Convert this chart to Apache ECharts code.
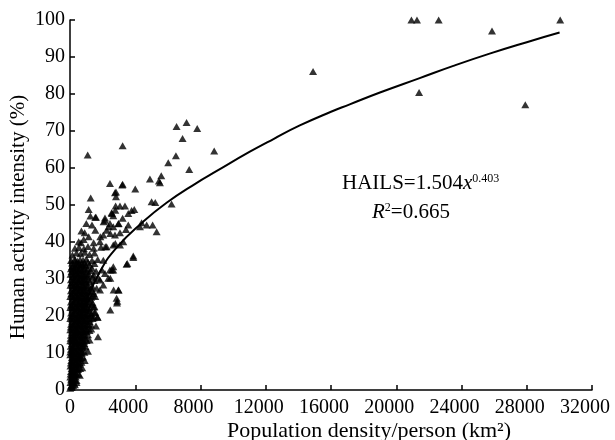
<!DOCTYPE html>
<html>
<head>
<meta charset="utf-8">
<script src="https://cdn.jsdelivr.net/npm/echarts@6/dist/echarts.min.js"></script>
<style>
  html, body { margin: 0; padding: 0; background: #fff; }
  #hails_chart { width: 615px; height: 440px; }
</style>
</head>
<body>
<div id="hails_chart"></div>
<script>
// population density (x) vs human activity intensity (y)
const denseCore = [
  [10,0.5],[60,1],[120,0.8],[30,2],[150,2.2],[250,1.8],[20,3.5],[100,3.2],[220,3.8],[350,3.5],
  [60,5],[180,5.2],[320,4.8],[450,5.5],[30,6.5],[130,6.8],[260,6.2],[400,6.6],[550,6.9],
  [80,8],[200,8.3],[340,7.8],[480,8.2],[620,8.5],[20,9.5],[150,9.7],[290,9.3],[430,9.8],[580,9.4],[720,9.9],
  [60,11],[200,11.2],[350,10.8],[500,11.3],[650,11],[800,11.4],[120,12.6],[270,12.4],[420,12.8],[570,12.5],[720,12.9],[880,12.6],
  [40,14],[190,14.2],[340,13.8],[490,14.3],[640,14.1],[790,14.4],[950,14],[110,15.6],[260,15.4],[410,15.8],[560,15.5],[710,15.9],[860,15.6],[1020,15.8],
  [50,17],[200,17.2],[350,16.8],[500,17.3],[650,17.1],[800,17.4],[950,17],[1120,17.3],[130,18.6],[280,18.4],[430,18.8],[580,18.5],[730,18.9],[880,18.6],[1030,18.8],[1200,18.5],
  [60,20],[210,20.2],[360,19.8],[510,20.3],[660,20.1],[810,20.4],[960,20],[1110,20.3],[1280,20.1],[1450,19.5],
  [140,21.6],[290,21.4],[440,21.8],[590,21.5],[740,21.9],[890,21.6],[1040,21.8],[1200,21.5],
  [70,23],[220,23.2],[370,22.8],[520,23.3],[670,23.1],[820,23.4],[970,23],[1120,23.3],[1350,23.1],
  [150,24.6],[300,24.4],[450,24.8],[600,24.5],[750,24.9],[900,24.6],[1050,24.8],[1250,24.5],
  [80,26],[230,26.2],[380,25.8],[530,26.3],[680,26.1],[830,26.4],[980,26],[1150,26.3],[1450,26.1],
  [160,27.6],[310,27.4],[460,27.8],[610,27.5],[760,27.9],[910,27.6],[1080,27.8],[1300,27.5],
  [90,29],[240,29.2],[390,28.8],[540,29.3],[690,29.1],[840,29.4],[1000,29],[1200,29.3],
  [170,30.6],[320,30.4],[470,30.8],[620,30.5],[770,30.9],[930,30.6],[1100,30.8],[1400,30.5],
  [100,32],[250,32.2],[400,31.8],[550,32.3],[700,32.1],[850,32.4],[1020,32],[1250,32.3],[1600,32.1],
  [180,33.6],[330,33.4],[480,33.8],[630,33.5],[800,33.9],[980,33.6],[1200,33.8],
  [60,35],[280,35.2],[450,34.8],[620,35.3],[800,35.1],[1000,35.4],[1350,35],[1700,35.3]
]
// in-between rows, the core is solid black in the figure
const denseFill = [
  [90,1.3],[190,1.2],[300,1.4],[70,2.8],[170,2.7],[290,2.9],[400,2.6],
  [40,4.3],[140,4.2],[260,4.4],[390,4.1],[520,4.3],[100,5.8],[220,5.7],[360,5.9],[500,5.6],[620,5.8],
  [50,7.3],[170,7.2],[310,7.4],[450,7.1],[600,7.3],[700,7.5],[120,8.8],[260,8.7],[400,8.9],[540,8.6],[680,8.8],[800,8.9],
  [20,10.3],[130,10.2],[270,10.4],[420,10.1],[570,10.3],[720,10.5],[880,10.2],
  [50,11.8],[190,11.7],[340,11.9],[490,11.6],[640,11.8],[790,12],[960,11.7],
  [20,13.3],[120,13.2],[260,13.4],[410,13.1],[560,13.3],[710,13.5],[860,13.2],[1020,13.4],
  [60,14.8],[180,14.7],[330,14.9],[480,14.6],[630,14.8],[780,15],[930,14.7],[1100,14.9],
  [20,16.3],[130,16.2],[280,16.4],[430,16.1],[580,16.3],[730,16.5],[880,16.2],[1030,16.4],[1200,16.1],
  [70,17.8],[200,17.7],[350,17.9],[500,17.6],[650,17.8],[800,18],[950,17.7],[1100,17.9],[1300,17.6],
  [20,19.3],[130,19.2],[280,19.4],[430,19.1],[580,19.3],[730,19.5],[880,19.2],[1030,19.4],[1200,19.1],[1380,19.3],
  [70,20.8],[200,20.7],[350,20.9],[500,20.6],[650,20.8],[800,21],[950,20.7],[1100,20.9],[1300,20.6],[1500,20.9],
  [20,22.3],[140,22.2],[290,22.4],[440,22.1],[590,22.3],[740,22.5],[890,22.2],[1040,22.4],[1220,22.1],[1450,22.4],
  [60,23.8],[220,23.7],[370,23.9],[520,23.6],[670,23.8],[820,24],[970,23.7],[1150,23.9],[1380,23.6],
  [20,25.3],[150,25.2],[300,25.4],[450,25.1],[600,25.3],[750,25.5],[900,25.2],[1060,25.4],[1300,25.1],[1550,25.3],
  [60,26.8],[220,26.7],[370,26.9],[520,26.6],[670,26.8],[820,27],[970,26.7],[1150,26.9],[1400,26.6],
  [30,28.3],[160,28.2],[310,28.4],[460,28.1],[610,28.3],[760,28.5],[910,28.2],[1080,28.4],[1350,28.1],
  [60,29.8],[220,29.7],[370,29.9],[520,29.6],[670,29.8],[820,30],[970,29.7],[1150,29.9],[1500,29.6],
  [40,31.3],[180,31.2],[330,31.4],[480,31.1],[630,31.3],[780,31.5],[940,31.2],[1150,31.4],[1450,31.1],
  [60,32.8],[230,32.7],[380,32.9],[530,32.6],[680,32.8],[850,33],[1050,32.7],[1350,32.9],
  [130,34.3],[380,34.2],[550,34.4],[720,34.1],[900,34.3],[1100,34.5],[1500,34.2]
]
const upperCluster = [
  [150,36.5],[400,37],[650,36.8],[900,37.2],[1200,36.6],[1500,37],[300,38.3],[550,38.5],[850,38.2],[1100,38.8],[1450,38.3],[1900,38.6],
  [531,40.1],[674,39.8],[837,40.7],[1145,41.4],[1450,39.8],[1858,41.4],[2164,38.7],[2246,38.7],[2654,39.2],[3063,39.2],[3266,40.1],[1838,40.1],[2777,39.6],
  [1348,44.6],[1552,43.2],[2062,45.5],[2368,44.1],[2470,42.3],[2981,45],[2042,41.9],[2246,43.2],[2450,45],[2654,44.1],[2756,41.9],[2960,44.9],
  [3063,42.5],[3226,46.4],[3430,43.4],[3573,44.6],[3573,47.7],[2144,45.9],[2552,47.9],[2654,47.1],[2797,49.7],[3063,49.7],[3369,49.7],[3777,48.5],[3941,48.8],
  [1145,48.8],[1268,51.9],[1552,46.7],[1592,46.7],[2144,46.5],[2573,47.7],[2777,48.6],[900,42.5],[1000,45],[700,43],[1250,47]
]
const midScatter = [
  [2470,21.6],[1695,19.6],[1592,17.3],[1715,14.4],[2880,23.5],[2960,27],[2900,24],[1675,19.8],[3880,36.2],[3510,34.2],[2650,32.4],
  [1838,27],[1633,27.5],[3880,35.8],[3471,34],[2654,33.3],[2450,32.4],[2042,35.1],[2144,31.5],[2858,24.8],[2348,30.2],[1838,29.7],[2042,28.4],
  [327,35.1],[122,33.3],[2573,32.4],[1960,32.4],[1756,30.2],[2470,30.2],[2675,27],[2981,27],
  [1500,22.5],[1400,25.5],[1550,21],[1300,16.5],[1200,13.5],[1100,10.5],[900,8],[750,6],[600,4],[400,2]
]
const outliers = [
  [1084,63.5],[2450,55.8],[2818,53.5],[2818,52.2],[3226,66],[3226,55.6],[4000,54.3],[2756,53.3],[3205,55.4],
  [4900,57],[5002,50.9],[5226,50.7],[5451,56.5],[5513,56],[5594,57.9],[6023,61.4],[6533,71.2],[6493,63.3],[6900,68],[7145,72.3],
  [7309,59.6],[7799,70.7],[8840,64.6],[6227,50.3],[5310,42.8],[5065,44.6],[4700,44.6],[4389,45.2],[4288,44.1],
  [14900,86.1],[20930,100],[21270,100],[22600,100],[25870,97],[30050,100],[21400,80.4],[27910,77.1]
]
// fitted power curve
const fitX = [0, 100, 500, 1000, 1838, 2858, 4491, 5921, 7700, 9000, 11025, 12500, 14088, 16000, 17150, 19000, 21438, 23500, 25725, 28000, 30013]
const fitY = [0, 9.5, 18, 24, 32, 38.5, 45.5, 50.6, 55.8, 59.2, 64.4, 67.9, 71.5, 75.2, 77.2, 80.4, 84.3, 87.6, 90.9, 94, 96.6]

const xTicks = [0, 4000, 8000, 12000, 16000, 20000, 24000, 28000, 32000]
const yTicks = [0, 10, 20, 30, 40, 50, 60, 70, 80, 90, 100]

const chartInstance = echarts.init(document.getElementById('hails_chart'))
const font = 'Liberation Serif'
const axisCommon = {
  axisLine: { lineStyle: { color: '#000', width: 1.5 } },
  axisTick: { inside: true, length: 5, lineStyle: { color: '#000', width: 1.5 } },
  splitLine: { show: false },
  nameMoveOverlap: false
}

const option = {
  backgroundColor: '#fff',
  animation: false,
  grid: { left: 70, right: 23, top: 20, bottom: 50, outerBoundsMode: 'none', containLabel: false },
  xAxis: {
    ...axisCommon,
    type: 'value',
    min: xTicks[0],
    max: xTicks[xTicks.length - 1],
    interval: 4000,
    name: 'Population density/person (km²)',
    nameLocation: 'middle',
    nameGap: 30,
    nameTextStyle: { fontFamily: font, fontSize: 22, color: '#000', padding: [0, 0, 0, 76] },
    axisLabel: {
      fontFamily: font, fontSize: 20, color: '#000', margin: 8,
      // the multi-digit labels sit a little left of their ticks in the figure
      formatter: (v) => v === 0 ? '{z|0}' : '{t|' + v + '}',
      rich: {
        z: { fontFamily: font, fontSize: 20, color: '#000' },
        t: { fontFamily: font, fontSize: 20, color: '#000', padding: [0, 14, 0, 0] }
      }
    }
  },
  yAxis: {
    ...axisCommon,
    type: 'value',
    min: yTicks[0],
    max: yTicks[yTicks.length - 1],
    interval: 10,
    name: 'Human activity intensity (%)',
    nameLocation: 'middle',
    nameGap: 41,
    nameTextStyle: { fontFamily: font, fontSize: 21, color: '#000', padding: [0, 24, 0, 0] },
    axisLabel: { fontFamily: font, fontSize: 20, color: '#000', margin: 5 }
  },
  series: [
    {
      type: 'scatter',
      symbol: 'triangle',
      symbolSize: [8, 7],
      itemStyle: { color: '#000' },
      data: [].concat(denseCore, denseFill, upperCluster, midScatter, outliers)
    },
    {
      type: 'line',
      smooth: true,
      showSymbol: false,
      lineStyle: { color: '#000', width: 2 },
      data: fitX.map((x, i) => [x, fitY[i]])
    }
  ],
  graphic: [
    {
      type: 'text',
      left: 342,
      top: 173,
      style: {
        text: '{n|HAILS=1.504}{i|x}{s|0.403}',
        rich: {
          n: { fontFamily: font, fontSize: 21, color: '#000' },
          i: { fontFamily: font, fontSize: 21, fontStyle: 'italic', color: '#000' },
          s: { fontFamily: font, fontSize: 12, color: '#000', verticalAlign: 'top' }
        }
      }
    },
    {
      type: 'text',
      left: 372,
      top: 202,
      style: {
        text: '{i|R}{s|2}{n|=0.665}',
        rich: {
          n: { fontFamily: font, fontSize: 21, color: '#000' },
          i: { fontFamily: font, fontSize: 21, fontStyle: 'italic', color: '#000' },
          s: { fontFamily: font, fontSize: 12, color: '#000', verticalAlign: 'top' }
        }
      }
    }
  ]
}
chartInstance.setOption(option)
</script>
</body>
</html>
